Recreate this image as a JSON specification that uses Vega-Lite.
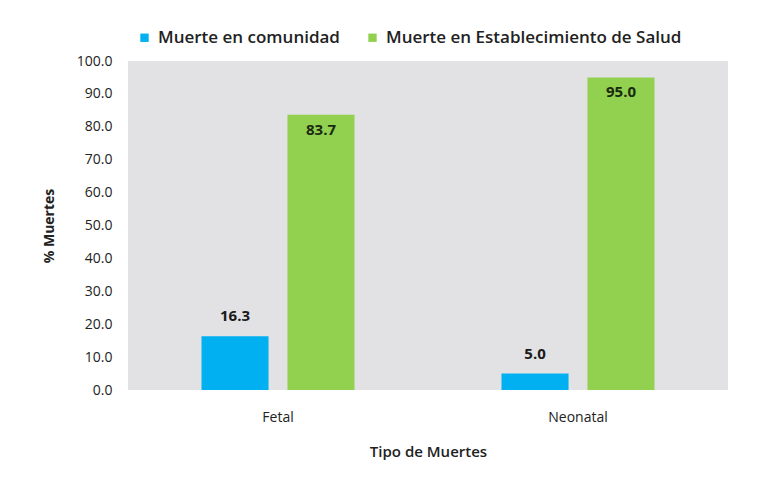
{
  "$schema": "https://vega.github.io/schema/vega-lite/v6.json",
  "autosize": "none",
  "width": 600,
  "height": 329,
  "padding": {"left": 128, "top": 61, "right": 30, "bottom": 105},
  "background": "#ffffff",
  "config": {
    "font": "Open Sans",
    "view": {"fill": "#e2e2e5", "stroke": null}
  },
  "data": {
    "values": [
      {"tipo": "Fetal", "serie": "Muerte en comunidad", "valor": 16.3},
      {"tipo": "Fetal", "serie": "Muerte en Establecimiento de Salud", "valor": 83.7},
      {"tipo": "Neonatal", "serie": "Muerte en comunidad", "valor": 5.0},
      {"tipo": "Neonatal", "serie": "Muerte en Establecimiento de Salud", "valor": 95.0}
    ]
  },
  "encoding": {
    "x": {
      "field": "tipo", "type": "nominal",
      "scale": {"paddingInner": 0.49, "paddingOuter": 0.245},
      "axis": {"title": "Tipo de Muertes", "labelAngle": 0, "domain": false, "ticks": false, "labelPadding": 20, "labelFontSize": 14, "labelColor": "#222222", "titleFontSize": 15, "titleFontWeight": 600, "titleColor": "#222222", "titlePadding": 20}
    },
    "xOffset": {"field": "serie", "type": "nominal", "scale": {"paddingInner": 0.22}, "sort": ["Muerte en comunidad", "Muerte en Establecimiento de Salud"]},
    "y": {
      "field": "valor", "type": "quantitative",
      "scale": {"domain": [0, 100]},
      "axis": {"title": "% Muertes", "format": ".1f", "values": [0,10,20,30,40,50,60,70,80,90,100], "labelOverlap": false, "grid": false, "domain": false, "ticks": false, "labelPadding": 16, "labelFontSize": 14, "labelColor": "#222222", "titleFontSize": 14, "titleFontWeight": "bold", "titleColor": "#222222", "titlePadding": 20}
    }
  },
  "layer": [
    {
      "mark": {"type": "bar"},
      "encoding": {
        "color": {
          "field": "serie", "type": "nominal",
          "scale": {"domain": ["Muerte en comunidad", "Muerte en Establecimiento de Salud"], "range": ["#00b0f0", "#92d050"]},
          "legend": {"title": null, "orient": "none", "legendX": 8, "legendY": -32, "direction": "horizontal", "symbolType": "square", "symbolSize": 70, "symbolStrokeWidth": 0, "labelFontSize": 17, "labelFontWeight": 600, "labelColor": "#222222", "labelLimit": 0, "columnPadding": 24, "labelOffset": 5}
        }
      }
    },
    {
      "transform": [{"filter": "datum.serie === 'Muerte en comunidad'"}],
      "mark": {"type": "text", "baseline": "bottom", "dy": -12, "fontSize": 15, "fontWeight": "bold", "color": "#1a1a1a"},
      "encoding": {"text": {"field": "valor", "type": "quantitative", "format": ".1f"}}
    },
    {
      "transform": [{"filter": "datum.serie === 'Muerte en Establecimiento de Salud'"}],
      "mark": {"type": "text", "baseline": "top", "dy": 8, "fontSize": 15, "fontWeight": "bold", "color": "#1a2a10"},
      "encoding": {"text": {"field": "valor", "type": "quantitative", "format": ".1f"}}
    }
  ]
}
